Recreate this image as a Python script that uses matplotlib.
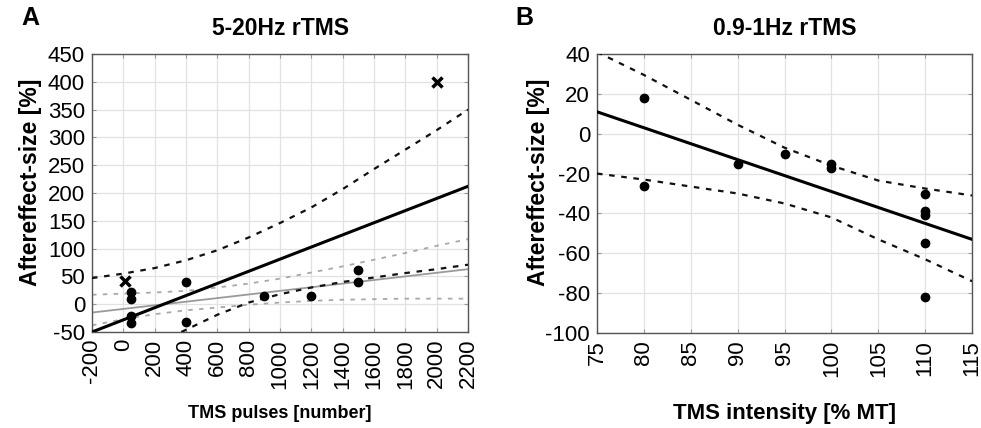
import matplotlib
matplotlib.use("Agg")
import matplotlib.pyplot as plt

plt.rcParams['font.family'] = ['Liberation Sans', 'DejaVu Sans']
plt.rcParams['axes.unicode_minus'] = False

# ---------------- Panel A data ----------------
a_dot_x = [50, 50, 50, 50, 400, 400, 900, 1200, 1500, 1500]
a_dot_y = [22, 10, -22, -33, 40, -32, 15, 15, 62, 40]
a_cross_x = [10, 2000]
a_cross_y = [42, 400]

a_fit_x = [-200, 2200]
a_fit_y = [-50, 212]
a_ci_x = [-200, 0, 200, 400, 600, 800, 1000, 1200, 1400, 1600, 1800, 2000, 2200]
a_ci_up = [47, 55, 65, 79, 97, 120, 146, 174, 207, 243, 278, 313, 350]
a_lo_x = [370, 400, 600, 800, 1000, 1200, 1400, 1600, 1800, 2000, 2200]
a_ci_lo = [-50, -46, -19, 3, 18, 30, 40, 48, 56, 63, 71]

a_gfit_x = [-200, 2200]
a_gfit_y = [-15, 63]
a_gci_up = [17, 19, 21, 24, 30, 37, 46, 57, 68, 80, 92, 105, 117]
a_gci_lo = [-38, -27, -18, -11, -6, -1, 3, 6, 8, 9, 10, 10, 10]

a_xticks = list(range(-200, 2201, 200))
a_yticks = list(range(-50, 451, 50))

# ---------------- Panel B data ----------------
b_dot_x = [80, 80, 90, 95, 100, 100, 110, 110, 110, 110, 110]
b_dot_y = [18, -26, -15, -10, -15, -17, -30, -39, -41, -55, -82]
b_fit_x = [75, 115]
b_fit_y = [11, -53]
b_ci_x = [75, 80, 85, 90, 95, 100, 105, 110, 115]
b_ci_up = [41, 29.5, 17, 4.5, -7, -16, -23.5, -27.5, -31]
b_ci_lo = [-20, -23, -26.5, -30, -35, -42, -53, -63, -74]

b_xticks = list(range(75, 116, 5))
b_yticks = list(range(-100, 41, 20))

fig = plt.figure(figsize=(9.81, 4.28), dpi=100)
W, H = 981, 428

def make_ax(l, r, t, b):
    return fig.add_axes([l / W, 1 - b / H, (r - l) / W, (b - t) / H])

axA = make_ax(92, 468, 54, 332)
axB = make_ax(597, 972, 54, 333)

dash = (0, (2.5, 3))
gdash = (0, (2.5, 3.5))

def style(ax):
    ax.grid(True, color='#e2e2e2', lw=0.9)
    ax.set_axisbelow(True)
    for s in ax.spines.values():
        s.set_color('#555555')
        s.set_linewidth(1.0)
    ax.tick_params(direction='in', length=3, width=0.8, color='#999999',
                   top=True, right=True, labelsize=16, pad=5)

# Panel A
axA.plot(a_gfit_x, a_gfit_y, color='#9a9a9a', lw=1.3, zorder=2)
axA.plot(a_ci_x, a_gci_up, color='#a8a8a8', lw=1.3, ls=gdash, zorder=2)
axA.plot(a_ci_x, a_gci_lo, color='#a8a8a8', lw=1.3, ls=gdash, zorder=2)
axA.plot(a_fit_x, a_fit_y, color='black', lw=2.2, zorder=3)
axA.plot(a_ci_x, a_ci_up, color='#111111', lw=1.6, ls=dash, zorder=3)
axA.plot(a_lo_x, a_ci_lo, color='#111111', lw=1.6, ls=dash, zorder=3)
axA.plot(a_dot_x, a_dot_y, 'o', color='black', ms=6, zorder=4)
axA.plot(a_cross_x, a_cross_y, 'x', color='black', ms=7, mew=2.5, zorder=4)
axA.set_xlim(-200, 2200)
axA.set_ylim(-50, 450)
axA.set_xticks(a_xticks)
axA.set_yticks(a_yticks)
axA.set_xticklabels([str(v) for v in a_xticks], rotation=90)
style(axA)
axA.set_title('5-20Hz rTMS', fontsize=16.5, fontweight='bold', pad=14)
axA.set_xlabel('TMS pulses [number]', fontsize=13, fontweight='bold')
axA.set_ylabel('Aftereffect-size [%]', fontsize=16.5, fontweight='bold')
axA.yaxis.set_label_coords(-62 / 376, 0.54)
axA.xaxis.set_label_coords(0.5, -(414 - 332) / 278)
axA.xaxis.label.set_va('center')
axA.yaxis.label.set_va('center')

# Panel B
axB.plot(b_fit_x, b_fit_y, color='black', lw=2.2, zorder=3)
axB.plot(b_ci_x, b_ci_up, color='#111111', lw=1.6, ls=dash, zorder=3)
axB.plot(b_ci_x, b_ci_lo, color='#111111', lw=1.6, ls=dash, zorder=3)
axB.plot(b_dot_x, b_dot_y, 'o', color='black', ms=6, zorder=4)
axB.set_xlim(75, 115)
axB.set_ylim(-100, 40)
axB.set_xticks(b_xticks)
axB.set_yticks(b_yticks)
axB.set_xticklabels([str(v) for v in b_xticks], rotation=90)
style(axB)
axB.set_title('0.9-1Hz rTMS', fontsize=16.5, fontweight='bold', pad=14)
axB.set_xlabel('TMS intensity [% MT]', fontsize=16, fontweight='bold')
axB.set_ylabel('Aftereffect-size [%]', fontsize=16.5, fontweight='bold')
axB.yaxis.set_label_coords(-59 / 375, 0.54)
axB.xaxis.set_label_coords(0.5, -(414 - 333) / 279)
axB.xaxis.label.set_va('center')
axB.yaxis.label.set_va('center')

fig.text(30 / W, 1 - 18 / H, 'A', fontsize=18, fontweight='bold', ha='center', va='center')
fig.text(524 / W, 1 - 18 / H, 'B', fontsize=18, fontweight='bold', ha='center', va='center')

fig.savefig('out.png', dpi=100)
